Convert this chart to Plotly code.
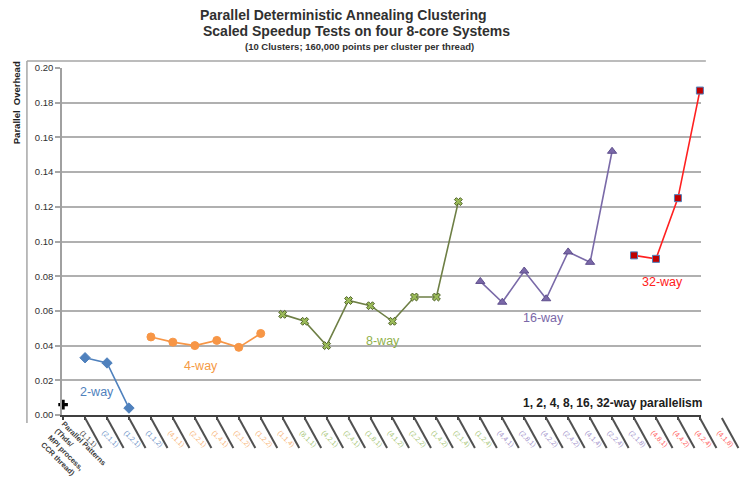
import plotly.graph_objects as go

# Parallel patterns (thread, MPI process, CCR thread), one per run, left to right
patterns = [
    "(1,1,1)",
    "(2,1,1)", "(1,2,1)", "(1,1,2)",
    "(4,1,1)", "(2,2,1)", "(1,4,1)", "(2,1,2)", "(1,2,2)", "(1,1,4)",
    "(8,1,1)", "(4,2,1)", "(2,4,1)", "(1,8,1)", "(4,1,2)", "(2,2,2)", "(1,4,2)", "(2,1,4)", "(1,2,4)",
    "(4,4,1)", "(2,8,1)", "(4,2,2)", "(2,4,2)", "(4,1,4)", "(2,2,4)", "(2,1,8)",
    "(4,8,1)", "(4,4,2)", "(4,2,4)", "(4,1,8)",
]

# Parallel overhead per degree of parallelism
overhead_1 = [0.006]
overhead_2 = [0.033, 0.030, 0.004]
overhead_4 = [0.045, 0.042, 0.040, 0.043, 0.039, 0.047]
overhead_8 = [0.058, 0.054, 0.040, 0.066, 0.063, 0.054, 0.068, 0.068, 0.123]
overhead_16 = [0.077, 0.065, 0.083, 0.067, 0.094, 0.088, 0.152]
overhead_32 = [0.092, 0.090, 0.125, 0.187]

y_ticks = [0.00, 0.02, 0.04, 0.06, 0.08, 0.10, 0.12, 0.14, 0.16, 0.18, 0.20]

FONT = "Liberation Sans, Arial, sans-serif"

groups = [
    # values, marker symbol, marker colour, marker edge, line colour, label colour, size
    (overhead_1, "cross", "#000000", "#000000", "#000000", "#404040", 8),
    (overhead_2, "diamond", "#4f81bd", "#4f81bd", "#4f81bd", "#6f93c8", 8),
    (overhead_4, "circle", "#f79646", "#f79646", "#f79646", "#f7b57a", 8),
    (overhead_8, "x", "#9bbb59", "#4f6228", "#6e7f45", "#a9c77a", 7),
    (overhead_16, "triangle-up", "#7a68a8", "#5e4e8c", "#7a6aa8", "#a595cc", 8),
    (overhead_32, "square", "#c00000", "#4f81bd", "#ff2020", "#ff6060", 7),
]

fig = go.Figure()
tick_colours = []
start = 0
for values, symbol, mcol, medge, lcol, tcol, size in groups:
    xs = patterns[start:start + len(values)]
    start += len(values)
    tick_colours += [tcol] * len(values)
    fig.add_trace(go.Scatter(
        x=xs, y=values, mode="lines+markers",
        line=dict(color=lcol, width=1.6),
        marker=dict(symbol=symbol, color=mcol, size=size,
                    line=dict(color=medge, width=1 if symbol != "cross" else 0)),
        cliponaxis=False, showlegend=False, hoverinfo="x+y",
    ))

tick_text = [f'<span style="color:{c}">{p}</span>' for p, c in zip(patterns, tick_colours)]

n = len(patterns)
x_range = [-0.05, n - 0.95]
plot_w = 747 - 62 - 29
plot_h = 477 - 68 - 62


def px_x(px):
    return (px - 62) / plot_w


def px_y(py):
    return (415 - py) / plot_h


# Diagonal leader strokes under the category axis
shapes = []
for j in range(1, n + 1):
    xp = (j - x_range[0]) / (x_range[1] - x_range[0])
    shapes.append(dict(
        type="line", xref="paper", yref="paper",
        x0=xp, y0=-3 / plot_h, x1=xp + 17 / plot_w, y1=-33 / plot_h,
        line=dict(color="#505050", width=2),
    ))

# Chart frame (left and top edges)
shapes.append(dict(type="line", xref="paper", yref="paper",
                   x0=px_x(26), y0=px_y(61), x1=px_x(26), y1=px_y(423),
                   line=dict(color="#a6a6a6", width=1.5)))
shapes.append(dict(type="line", xref="paper", yref="paper",
                   x0=px_x(26), y0=px_y(61), x1=px_x(723), y1=px_y(61),
                   line=dict(color="#a6a6a6", width=1.5)))


def label(text, x, y, colour, size=12.5):
    return dict(text=text, x=x, y=y, xref="x", yref="y", showarrow=False,
                xanchor="center", yanchor="middle",
                font=dict(family=FONT, size=size, color=colour))


def page_text(text, px, py, size, colour="#303030", angle=0):
    return dict(text=text, x=px_x(px), y=px_y(py), xref="paper", yref="paper",
                xanchor="center", yanchor="middle", showarrow=False, textangle=angle,
                font=dict(family=FONT, size=size, color=colour))


annotations = [
    label("2-way", 1.55, 0.0135, "#4f81bd"),
    label("4-way", 6.3, 0.028, "#f59a45"),
    label("8-way", 14.55, 0.0425, "#8fb04a"),
    label("16-way", 21.9, 0.056, "#7a68a8"),
    label("32-way", 27.3, 0.0765, "#ff2020"),
    label("<b>1, 2, 4, 8, 16, 32-way parallelism</b>", 25.0, 0.007, "#202020", 12),
    dict(text="<b>Parallel Patterns<br>(Thds/<br>MPI process,<br>CCR thread)</b>",
         x=px_x(36), y=px_y(417), xref="paper", yref="paper",
         xanchor="left", yanchor="top", align="left", showarrow=False, textangle=45,
         font=dict(family=FONT, size=7.5, color="#404040")),
    page_text("<b>Parallel  Overhead</b>", 15, 103, 9.5, "#202020", -90),
    page_text("<b>Parallel Deterministic Annealing Clustering</b>", 351, 15, 14),
    page_text("<b>Scaled Speedup Tests on four 8-core Systems</b>", 364, 31, 14),
    page_text("<b>(10 Clusters; 160,000 points per cluster per thread)</b>", 367, 46, 9.5),
]

fig.update_layout(
    width=747, height=477,
    margin=dict(l=62, r=29, t=68, b=62),
    paper_bgcolor="white", plot_bgcolor="white",
    font=dict(family=FONT, color="#303030"),
    shapes=shapes, annotations=annotations,
    xaxis=dict(
        type="category", categoryorder="array", categoryarray=patterns,
        range=x_range, tickmode="array", tickvals=patterns, ticktext=tick_text,
        tickangle=45, tickfont=dict(family=FONT, size=7),
        ticklabelshift=19, ticklabelstandoff=6,
        showline=True, linecolor="#404040", linewidth=2,
        ticks="outside", ticklen=3, tickwidth=2, tickcolor="#404040",
        showgrid=False, zeroline=False,
    ),
    yaxis=dict(
        range=[0, 0.2], tickvals=y_ticks, tickformat=".2f",
        tickfont=dict(family=FONT, size=9.5, color="#303030"),
        showline=True, linecolor="#a0a0a0", linewidth=1.5,
        ticks="outside", ticklen=5, tickcolor="#a6a6a6", tickwidth=1.5,
        showgrid=True, gridcolor="#b0b0b0", gridwidth=1.5, zeroline=False,
    ),
)

fig.write_html("out.html")
